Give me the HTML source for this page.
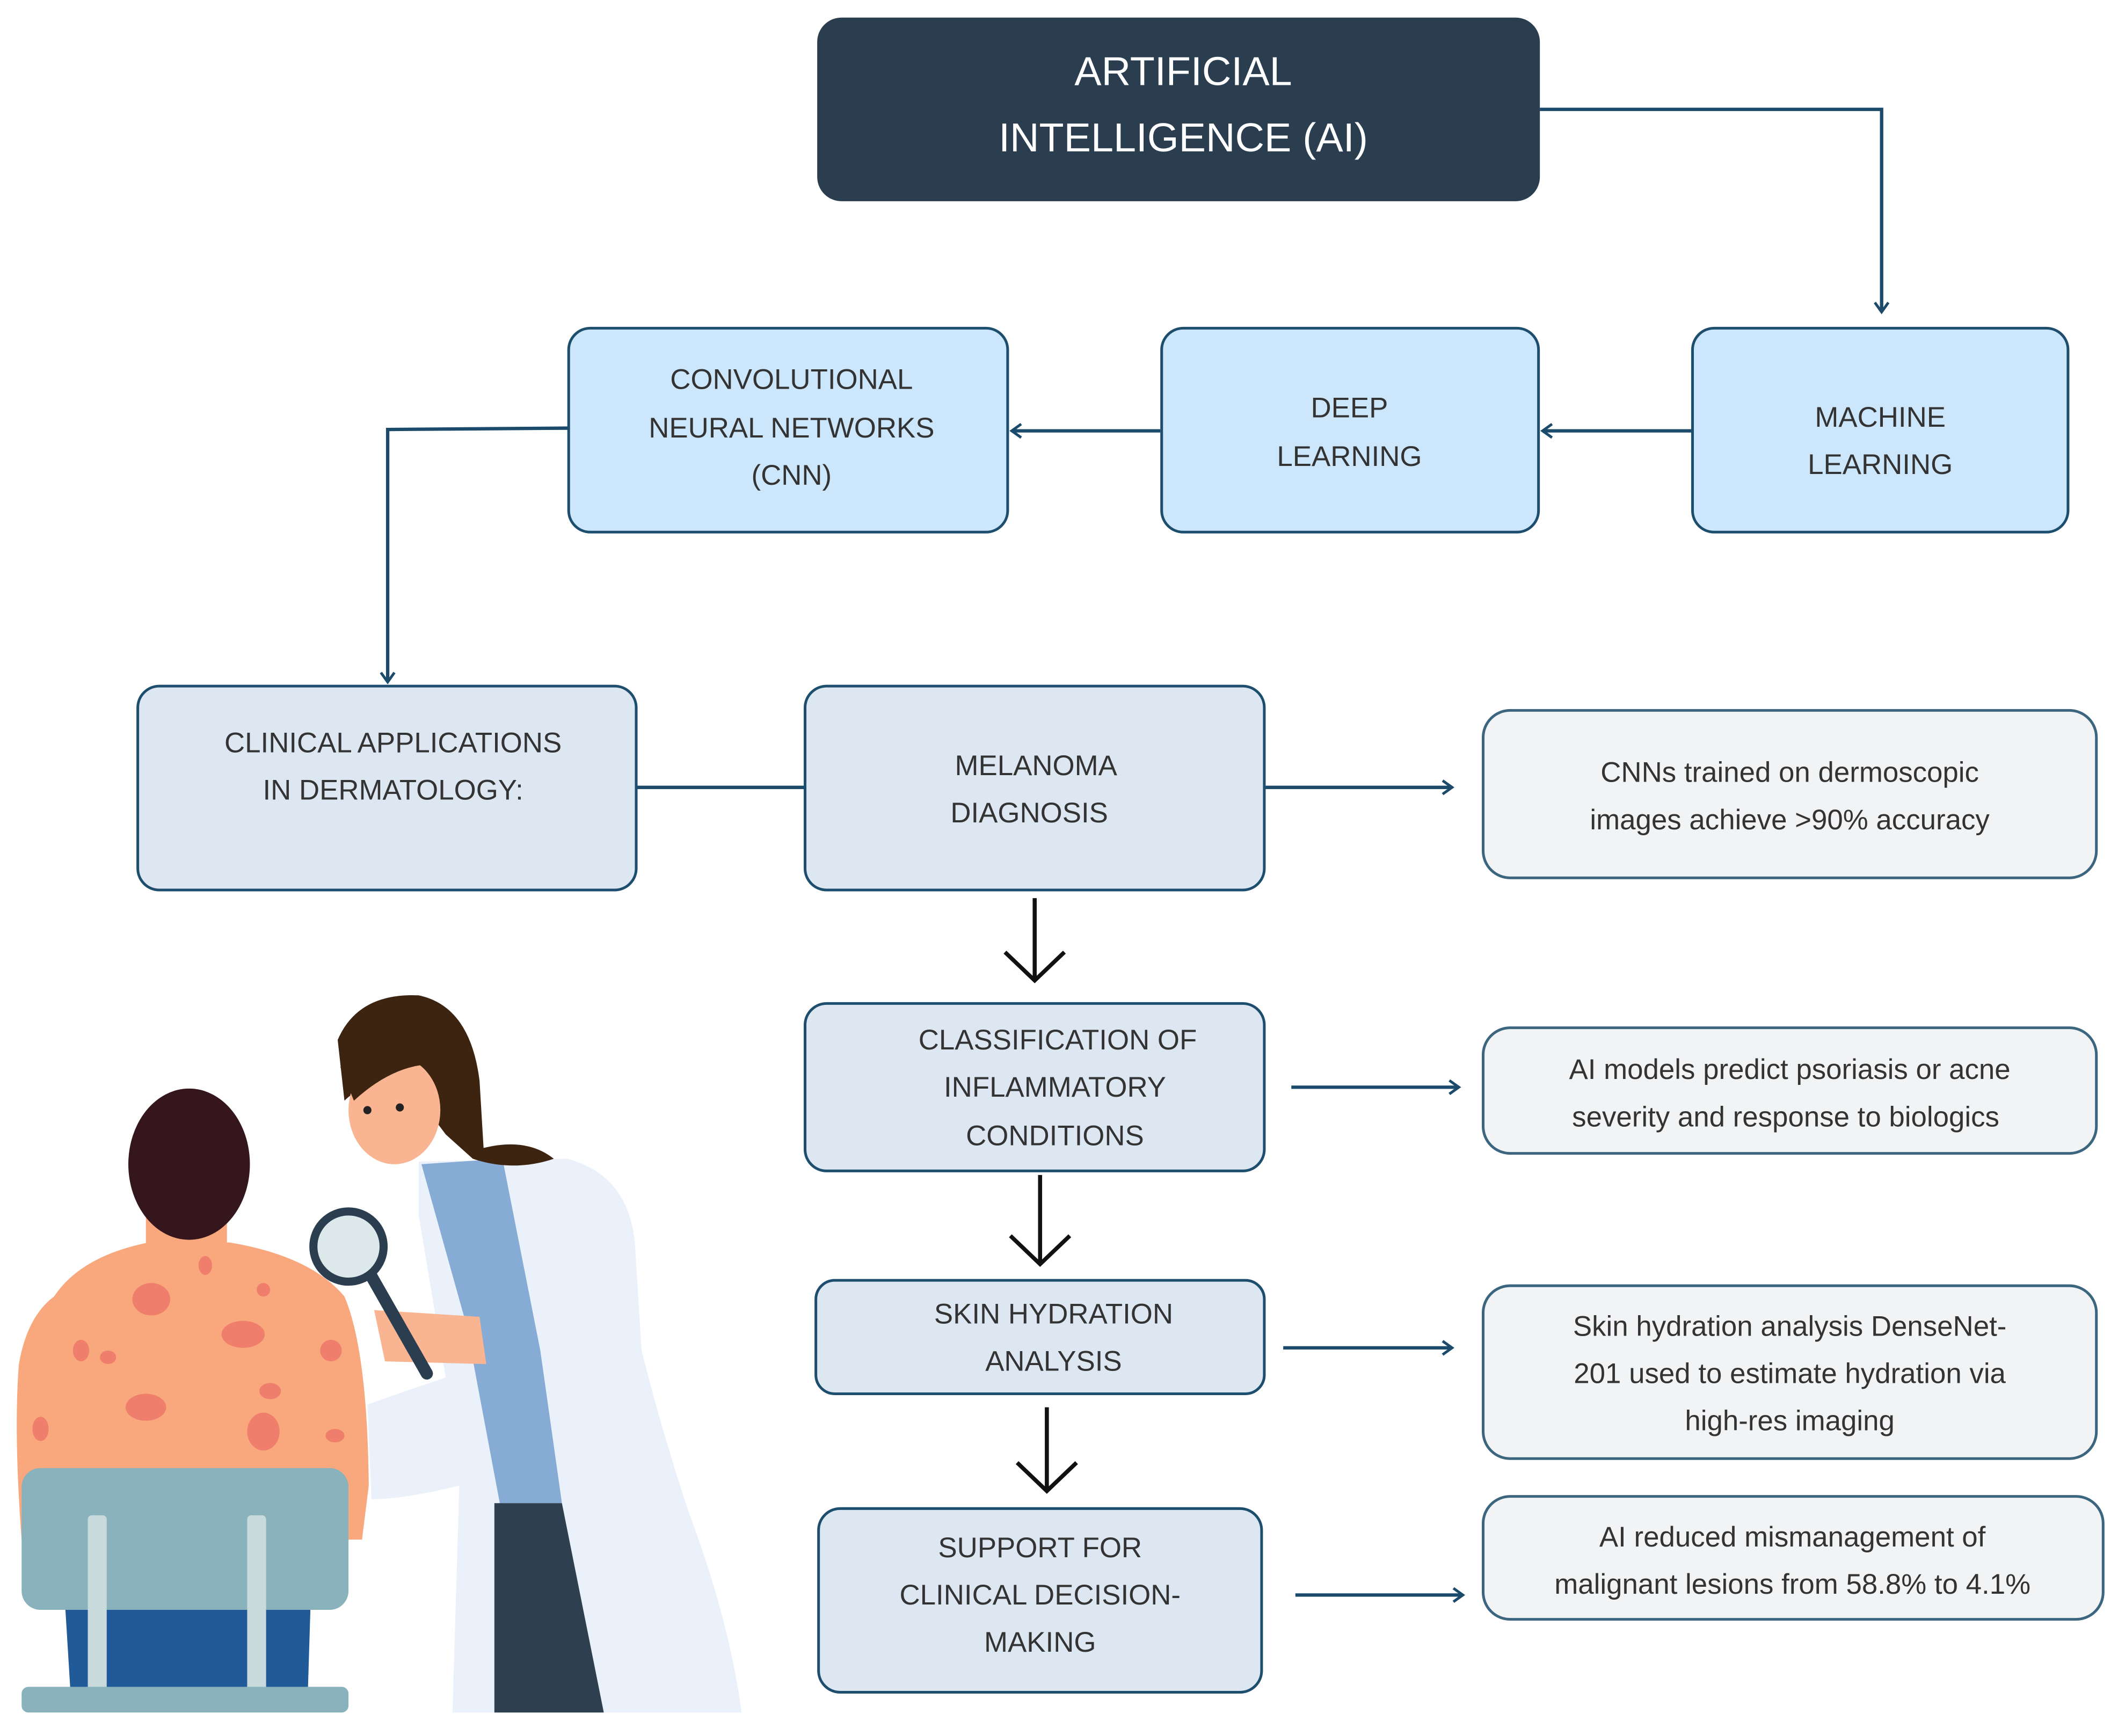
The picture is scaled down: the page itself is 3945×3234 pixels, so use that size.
<!DOCTYPE html>
<html><head><meta charset="utf-8"><style>
html,body{margin:0;padding:0;background:#fff}
svg{display:block}
text{font-family:"Liberation Sans",sans-serif;fill:#333;font-size:21px;text-anchor:middle}
text.t{font-size:30px;fill:#fff}
</style></head><body>
<svg width="3945" height="3234" viewBox="0 0 1568 1285.4" preserveAspectRatio="none" xmlns="http://www.w3.org/2000/svg">
<defs>
<marker id="a" markerWidth="12" markerHeight="12" refX="9" refY="6" orient="auto" markerUnits="userSpaceOnUse"><path d="M2,1 L9,6 L2,11" fill="none" stroke="#1b4a6b" stroke-width="2"/></marker>
</defs>
<!-- illustration -->
<g>
<path d="M40,960 Q60,930 110,920 L170,920 Q230,930 255,960 Q272,1000 273,1100 L268,1140 L16,1140 Q10,1060 14,1010 Q20,975 40,960Z" fill="#f8a87c"/>
<rect x="108" y="890" width="60" height="45" fill="#f8a87c"/>
<ellipse cx="140" cy="862" rx="45" ry="56" fill="#35161c"/>
<g fill="#ef7f6c">
<ellipse cx="112" cy="962" rx="14" ry="12"/><ellipse cx="180" cy="988" rx="16" ry="10"/><ellipse cx="108" cy="1042" rx="15" ry="10"/>
<ellipse cx="195" cy="1060" rx="12" ry="14"/><ellipse cx="60" cy="1000" rx="6" ry="8"/><ellipse cx="245" cy="1000" rx="8" ry="8"/>
<ellipse cx="30" cy="1058" rx="6" ry="9"/><ellipse cx="200" cy="1030" rx="8" ry="6"/><ellipse cx="80" cy="1005" rx="6" ry="5"/>
<ellipse cx="152" cy="937" rx="5" ry="7"/><ellipse cx="195" cy="955" rx="5" ry="5"/><ellipse cx="248" cy="1063" rx="7" ry="5"/>
</g>
<path d="M48,1185 L230,1185 L228,1250 L52,1250Z" fill="#215a99"/>
<rect x="16" y="1087" width="242" height="105" rx="14" fill="#8ab2bc"/>
<rect x="65" y="1122" width="14" height="130" rx="3" fill="#c9dadd"/>
<rect x="183" y="1122" width="14" height="130" rx="3" fill="#c9dadd"/>
<rect x="16" y="1249" width="242" height="19" rx="5" fill="#8ab2bc"/>
<!-- doctor -->
<path d="M310,860 L420,858 Q465,870 470,920 L475,1000 Q490,1060 510,1120 Q540,1200 549,1268 L335,1268 L340,1100 Q300,1110 275,1110 L272,1040 Q300,1030 330,1020 L310,900Z" fill="#eaf1fa"/>
<path d="M312,862 L372,858 L400,1000 L416,1113 L370,1113 L345,980Z" fill="#86acd6"/>
<path d="M366,1113 L416,1113 L447,1268 L366,1268Z" fill="#2e3f4f"/>
<path d="M250,770 Q265,735 310,737 Q348,745 355,800 L358,850 Q390,842 410,858 Q380,868 350,858 L330,840 L300,800 Q270,800 255,815Z" fill="#3d2410"/>
<ellipse cx="292" cy="822" rx="34" ry="40" fill="#f9b592"/>
<path d="M252,790 Q280,765 330,770 L340,790 Q300,780 262,815Z" fill="#3d2410"/>
<circle cx="272" cy="822" r="3" fill="#222"/><circle cx="296" cy="820" r="3" fill="#222"/>
<path d="M277,970 L355,975 L360,1010 L285,1008Z" fill="#f9b592"/>
<line x1="275" y1="945" x2="316" y2="1017" stroke="#2b3e50" stroke-width="9" stroke-linecap="round"/>
<circle cx="258" cy="923" r="26" fill="#dde8ea" stroke="#2b3e50" stroke-width="6"/>
</g>
<!-- connectors -->
<g fill="none" stroke="#1b4a6b" stroke-width="2.5">
<polyline points="1140,81 1393,81 1393,231" marker-end="url(#a)"/>
<line x1="1252" y1="319" x2="1142" y2="319" marker-end="url(#a)"/>
<line x1="859" y1="319" x2="749" y2="319" marker-end="url(#a)"/>
<polyline points="421,317 287,318 287,505" marker-end="url(#a)"/>
<line x1="471" y1="583" x2="596" y2="583"/>
<line x1="937" y1="583" x2="1075" y2="583" marker-end="url(#a)"/>
<line x1="956" y1="805" x2="1080" y2="805" marker-end="url(#a)"/>
<line x1="950" y1="998" x2="1075" y2="998" marker-end="url(#a)"/>
<line x1="959" y1="1181" x2="1083" y2="1181" marker-end="url(#a)"/>
</g>
<g fill="none" stroke="#111" stroke-width="3" stroke-linejoin="miter">
<line x1="766" y1="665" x2="766" y2="726"/><polyline points="744,705 766,726 788,705"/>
<line x1="770" y1="870" x2="770" y2="936"/><polyline points="748,915 770,936 792,915"/>
<line x1="775" y1="1042" x2="775" y2="1104"/><polyline points="753,1083 775,1104 797,1083"/>
</g>
<!-- boxes -->
<rect x="605" y="13" width="535" height="136" rx="18" fill="#2b3e50"/>
<text x="876" y="63" class="t">ARTIFICIAL</text>
<text x="876" y="112" class="t">INTELLIGENCE (AI)</text>
<g fill="#cce6fb" stroke="#1e4e6e" stroke-width="2">
<rect x="421" y="243" width="325" height="151" rx="16"/>
<rect x="860" y="243" width="279" height="151" rx="16"/>
<rect x="1253" y="243" width="278" height="151" rx="16"/>
</g>
<g fill="#dde7f2" stroke="#1e4e6e" stroke-width="2">
<rect x="102" y="508" width="369" height="151" rx="16"/>
<rect x="596" y="508" width="340" height="151" rx="16"/>
<rect x="596" y="743" width="340" height="124" rx="16"/>
<rect x="604" y="948" width="332" height="84" rx="14"/>
<rect x="606" y="1117" width="328" height="136" rx="16"/>
</g>
<g fill="#f1f3f4" stroke="#3c6680" stroke-width="2">
<rect x="1098" y="526" width="454" height="124" rx="20"/>
<rect x="1098" y="761" width="454" height="93" rx="20"/>
<rect x="1098" y="952" width="454" height="128" rx="20"/>
<rect x="1098" y="1108" width="459" height="91" rx="20"/>
</g>
<text x="586" y="288">CONVOLUTIONAL</text><text x="586" y="324">NEURAL NETWORKS</text><text x="586" y="359">(CNN)</text>
<text x="999" y="309">DEEP</text><text x="999" y="345">LEARNING</text>
<text x="1392" y="316">MACHINE</text><text x="1392" y="351">LEARNING</text>
<text x="291" y="557">CLINICAL APPLICATIONS</text><text x="291" y="592">IN DERMATOLOGY:</text>
<text x="767" y="574">MELANOMA</text><text x="762" y="609">DIAGNOSIS</text>
<text x="1325" y="579">CNNs trained on dermoscopic</text><text x="1325" y="614">images achieve &gt;90% accuracy</text>
<text x="783" y="777">CLASSIFICATION OF</text><text x="781" y="812">INFLAMMATORY</text><text x="781" y="848">CONDITIONS</text>
<text x="1325" y="799">AI models predict psoriasis or acne</text><text x="1322" y="834">severity and response to biologics</text>
<text x="780" y="980">SKIN HYDRATION</text><text x="780" y="1015">ANALYSIS</text>
<text x="1325" y="989">Skin hydration analysis DenseNet-</text><text x="1325" y="1024">201 used to estimate hydration via</text><text x="1325" y="1059">high-res imaging</text>
<text x="770" y="1153">SUPPORT FOR</text><text x="770" y="1188">CLINICAL DECISION-</text><text x="770" y="1223">MAKING</text>
<text x="1327" y="1145">AI reduced mismanagement of</text><text x="1327" y="1180">malignant lesions from 58.8% to 4.1%</text>
</svg>
</body></html>
